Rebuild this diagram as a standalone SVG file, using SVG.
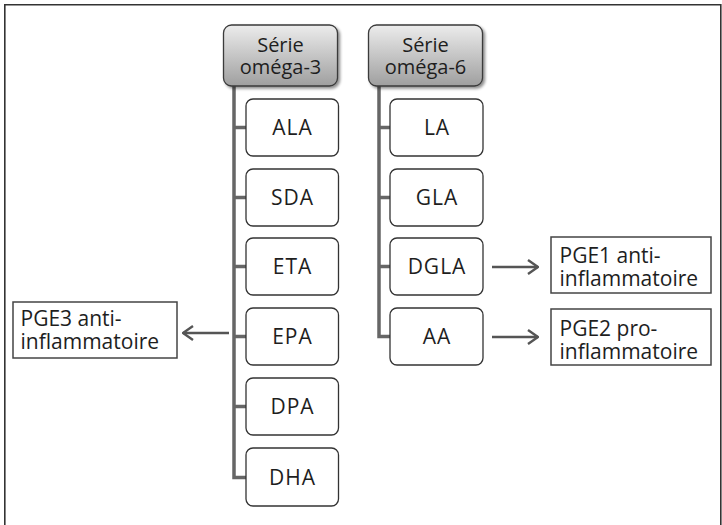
<svg xmlns="http://www.w3.org/2000/svg" width="722" height="525" viewBox="0 0 722 525">
  <defs>
    <linearGradient id="hdrFill" x1="0" y1="0" x2="0" y2="1">
      <stop offset="0" stop-color="#ececec"/>
      <stop offset="1" stop-color="#9f9f9f"/>
    </linearGradient>
    <filter id="shadow" x="-20%" y="-20%" width="150%" height="150%">
      <feGaussianBlur in="SourceAlpha" stdDeviation="1.6"/>
      <feOffset dx="2" dy="2" result="b"/>
      <feComponentTransfer><feFuncA type="linear" slope="0.45"/></feComponentTransfer>
      <feMerge><feMergeNode/><feMergeNode in="SourceGraphic"/></feMerge>
    </filter>
    <marker id="chev" viewBox="0 0 12 16" refX="11" refY="8" markerWidth="12" markerHeight="16" markerUnits="userSpaceOnUse" orient="auto">
      <path d="M1 1 L11 8 L1 15" fill="none" stroke="#555" stroke-width="2.4"/>
    </marker>
  </defs>
  <style>
    text { font-family: "Open Sans", "Noto Sans", sans-serif; font-size: 21px; fill: #1e1e1e; }
    .c { text-anchor: middle; }
    .cap { letter-spacing: 1px; }
    .hdr { fill: url(#hdrFill); stroke: #3a3a3a; stroke-width: 1.3; filter: url(#shadow); }
    .hdr-t { font-size: 20px; }
    .box { fill: #fff; stroke: #333; stroke-width: 1.3; }
    .res { fill: #fff; stroke: #444; stroke-width: 1.5; }
    .trunk { fill: none; stroke: #666; stroke-width: 3.5; }
    .arrow { fill: none; stroke: #555; stroke-width: 2.4; marker-end: url(#chev); }
    .frame { fill: none; stroke: #333; stroke-width: 1.6; }
  </style>

  <!-- outer frame, open at the bottom -->
  <path class="frame" d="M4.8 525 V4.8 H720.8 V525"/>

  <!-- connectors -->
  <g id="connectors">
    <path class="trunk" d="M234 86 V477.5 H246 M234 127.5 H246 M234 197.5 H246 M234 266.5 H246 M234 336.5 H246 M234 406.5 H246"/>
    <path class="trunk" d="M379 86 V336.5 H390 M379 127.5 H390 M379 197.5 H390 M379 266.5 H390"/>
    <path class="arrow" d="M229 333 H183"/>
    <path class="arrow" d="M492 267 H538"/>
    <path class="arrow" d="M492 337 H538"/>
  </g>

  <!-- omega-3 series -->
  <g id="hdr-omega3">
    <rect class="hdr" x="223.5" y="25" width="114" height="61" rx="8"/>
    <text class="c hdr-t" x="280.5" y="52">Série<tspan x="280.5" dy="22">oméga-3</tspan></text>
  </g>
  <g id="ala"><rect class="box" x="246" y="99" width="92.5" height="57" rx="7"/><text class="c cap" x="292.5" y="135">ALA</text></g>
  <g id="sda"><rect class="box" x="246" y="169" width="92.5" height="57" rx="7"/><text class="c cap" x="292.5" y="205">SDA</text></g>
  <g id="eta"><rect class="box" x="246" y="238" width="92.5" height="57" rx="7"/><text class="c cap" x="292.5" y="274">ETA</text></g>
  <g id="epa"><rect class="box" x="246" y="308" width="92.5" height="57" rx="7"/><text class="c cap" x="292.5" y="344">EPA</text></g>
  <g id="dpa"><rect class="box" x="246" y="378" width="92.5" height="57" rx="7"/><text class="c cap" x="292.5" y="414">DPA</text></g>
  <g id="dha"><rect class="box" x="246" y="448" width="92.5" height="58" rx="7"/><text class="c cap" x="292.5" y="484.5">DHA</text></g>

  <!-- omega-6 series -->
  <g id="hdr-omega6">
    <rect class="hdr" x="368.5" y="25" width="114" height="61" rx="8"/>
    <text class="c hdr-t" x="425.5" y="52">Série<tspan x="425.5" dy="22">oméga-6</tspan></text>
  </g>
  <g id="la"><rect class="box" x="390" y="99" width="93" height="57" rx="7"/><text class="c cap" x="437" y="135">LA</text></g>
  <g id="gla"><rect class="box" x="390" y="169" width="93" height="57" rx="7"/><text class="c cap" x="437" y="205">GLA</text></g>
  <g id="dgla"><rect class="box" x="390" y="238" width="93" height="57" rx="7"/><text class="c cap" x="437" y="274">DGLA</text></g>
  <g id="aa"><rect class="box" x="390" y="308" width="93" height="57" rx="7"/><text class="c cap" x="437" y="344">AA</text></g>

  <!-- prostaglandin outcomes -->
  <g id="pge3">
    <rect class="res" x="13" y="302" width="164" height="56"/>
    <text x="20.5" y="326">PGE3 anti-<tspan x="20.5" dy="23">inflammatoire</tspan></text>
  </g>
  <g id="pge1">
    <rect class="res" x="551" y="237" width="160" height="56"/>
    <text x="559.5" y="263">PGE1 anti-<tspan x="559.5" dy="23">inflammatoire</tspan></text>
  </g>
  <g id="pge2">
    <rect class="res" x="551" y="309" width="160" height="56"/>
    <text x="559.5" y="336">PGE2 pro-<tspan x="559.5" dy="23">inflammatoire</tspan></text>
  </g>
</svg>
